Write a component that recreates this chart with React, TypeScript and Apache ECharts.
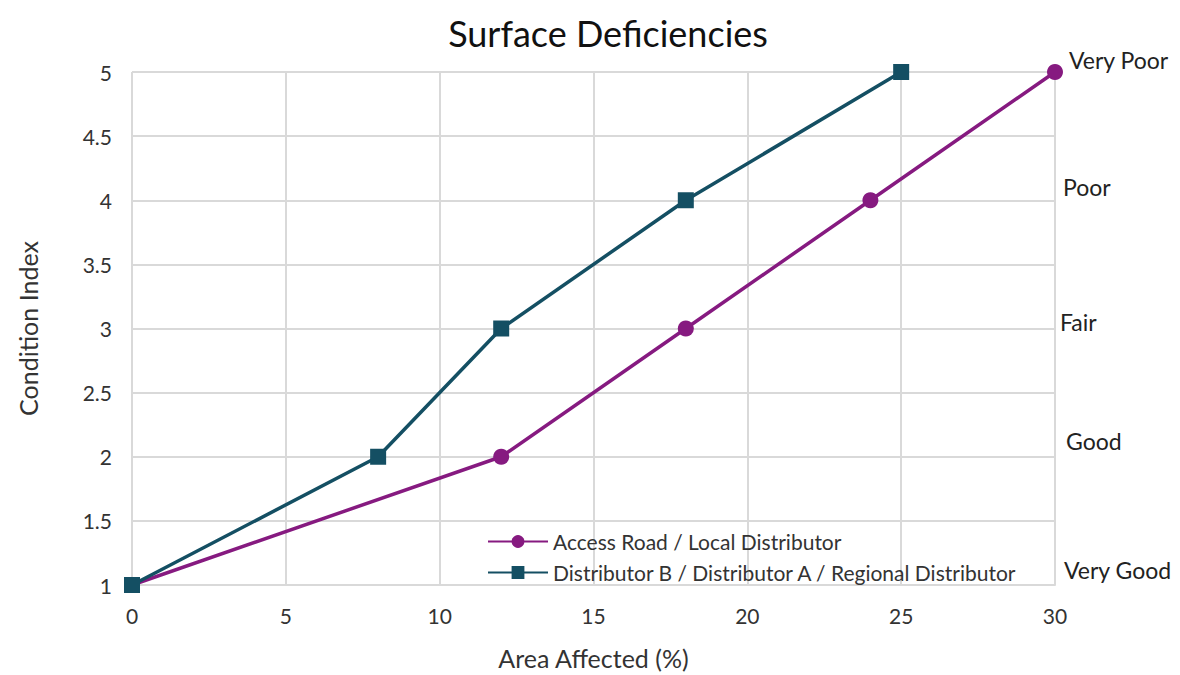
import React, { useEffect, useRef } from "react";
import * as echarts from "echarts";

const titleText = "Surface Deficiencies";
const xAxisName = "Area Affected (%)";
const yAxisName = "Condition Index";

const seriesAName = "Access Road / Local Distributor";
const seriesAX = [0, 12, 18, 24, 30];
const seriesAY = [1, 2, 3, 4, 5];

const seriesBName = "Distributor B / Distributor A / Regional Distributor";
const seriesBX = [0, 8, 12, 18, 25];
const seriesBY = [1, 2, 3, 4, 5];

const ratingLabels = ["Very Poor", "Poor", "Fair", "Good", "Very Good"];
const ratingLevels = [5.09, 4.1, 3.05, 2.12, 1.12];
const ratingXOffsets = [14, 8, 5, 11, 9];

const PURPLE = "#861a80";
const TEAL = "#144f63";
const FONT = "Lato, 'Open Sans', sans-serif";

export default function App() {
  const ref = useRef<HTMLDivElement>(null);
  useEffect(() => {
    if (!ref.current) return;
    const chart = echarts.init(ref.current, null, { renderer: "svg" });
    const option: any = {
      animation: false,
      backgroundColor: "#ffffff",
      textStyle: { fontFamily: FONT },
      title: {
        text: titleText,
        left: 603,
        top: 10,
        textAlign: "center",
        textStyle: { fontFamily: FONT, fontSize: 36, fontWeight: "normal", color: "#111" },
      },
      grid: { left: 132, right: 125, top: 72, bottom: 88, containLabel: false },
      legend: {
        orient: "vertical",
        left: 482,
        top: 526,
        itemWidth: 60,
        itemHeight: 16,
        itemGap: 10,
        textStyle: { fontFamily: FONT, fontSize: 21, color: "#333" },
        data: [seriesAName, seriesBName],
      },
      xAxis: {
        type: "value",
        min: 0,
        max: 30,
        interval: 5,
        name: xAxisName,
        nameLocation: "middle",
        nameGap: 60,
        nameTextStyle: { fontFamily: FONT, fontSize: 25, color: "#333" },
        axisLine: { show: true, lineStyle: { color: "#d9d9d9", width: 2 } },
        axisTick: { show: false },
        axisLabel: { fontFamily: FONT, fontSize: 21, color: "#333", margin: 20 },
        splitLine: { show: true, lineStyle: { color: "#d9d9d9", width: 2 } },
      },
      yAxis: {
        type: "value",
        min: 1,
        max: 5,
        interval: 0.5,
        name: yAxisName,
        nameLocation: "middle",
        nameGap: 92,
        nameTextStyle: { fontFamily: FONT, fontSize: 25, color: "#333" },
        axisLine: { show: false },
        axisTick: { show: false },
        axisLabel: { fontFamily: FONT, fontSize: 21, color: "#333", margin: 20 },
        splitLine: { show: true, lineStyle: { color: "#d9d9d9", width: 2 } },
      },
      series: [
        {
          name: seriesAName,
          type: "line",
          data: seriesAX.map((x, i) => [x, seriesAY[i]]),
          symbol: "circle",
          symbolSize: 16,
          lineStyle: { color: PURPLE, width: 3.5 },
          itemStyle: { color: PURPLE },
          z: 3,
        },
        {
          name: seriesBName,
          type: "line",
          data: seriesBX.map((x, i) => [x, seriesBY[i]]),
          symbol: "rect",
          symbolSize: 16,
          lineStyle: { color: TEAL, width: 3.5 },
          itemStyle: { color: TEAL },
          z: 4,
        },
      ],
    };
    chart.setOption(option);
    const graphics = ratingLabels.map((t, i) => {
      const p = chart.convertToPixel({ gridIndex: 0 }, [30, ratingLevels[i]]) as number[];
      return {
        type: "text",
        x: p[0] + ratingXOffsets[i],
        y: p[1],
        style: {
          text: t,
          fontFamily: FONT,
          fontSize: 23,
          fill: "#222",
          verticalAlign: "middle",
        },
      };
    });
    chart.setOption({ graphic: graphics });
    return () => chart.dispose();
  }, []);
  return (
    <div
      ref={ref}
      style={{ position: "absolute", left: 0, top: 0, width: 1180, height: 675 }}
    />
  );
}
